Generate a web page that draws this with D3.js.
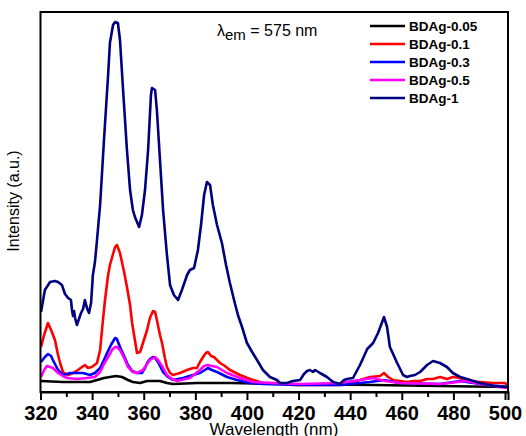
<!DOCTYPE html>
<html><head><meta charset="utf-8">
<script src="https://cdn.jsdelivr.net/npm/d3@7"></script>
<style>body{margin:0;background:#fff}svg{display:block}</style>
</head><body>
<script>
// ---- data ----
const seriesNames = ["BDAg-0.05","BDAg-0.1","BDAg-0.3","BDAg-0.5","BDAg-1"];
const seriesColors = ["#000000","#ff0000","#0000ff","#ff00ff","#000080"];
const xTicks = [320,340,360,380,400,420,440,460,480,500];
const xMinorTicks = [330,350,370,390,410,430,450,470,490];

const wl005 = [320.2,328.7,339.2,341.9,344.6,346.9,349.3,351.6,353.9,355.8,358.6,361.3,363.6,366.3,369.0,371.3,380.6,393.4,412.8,448.9,474.8,500.8];
const int005 = [11,10,10,12,14,15,16,15,12,10,9,11,11,11,9,8,9,9,8,7,6,5];

const wl01 = [320.2,321.4,322.9,324.1,325.6,326.8,327.6,328.7,330.7,332.6,334.5,336.1,337.2,338.4,339.9,341.9,343.1,344.2,345.0,346.2,346.9,348.9,349.6,350.8,352.4,353.5,354.7,355.5,357.4,358.6,359.7,361.3,362.4,363.6,364.4,365.1,366.3,367.1,368.2,369.0,370.2,371.3,374.1,376.8,379.1,380.6,381.8,383.0,384.1,384.9,386.1,387.2,389.6,391.5,393.4,397.3,401.2,406.2,412.8,417.8,428.3,437.2,440.7,443.8,447.7,451.6,453.1,454.7,456.6,459.3,462.0,464.7,467.1,469.8,472.1,474.8,477.5,479.8,482.6,485.3,490.3,495.4,500.0,500.8];
const int01 = [45,57,69,62,52,37,29,20,17,19,22,25,27,24,25,29,42,72,92,117,127,145,147,139,120,105,87,69,39,40,49,62,74,81,80,72,57,49,34,25,19,17,19,22,24,24,30,35,39,40,36,35,29,26,22,17,13,9,9,7,7,7,10,12,15,16,19,15,12,11,10,11,11,13,13,15,13,15,14,11,10,9,9,7];

const wl03 = [320.2,321.7,322.9,324.1,324.8,326.0,326.8,328.7,330.3,331.4,334.1,336.5,339.2,341.1,343.1,344.6,345.8,347.3,348.9,349.6,350.8,352.4,353.9,355.5,357.4,359.3,360.5,361.3,362.4,363.6,364.4,365.5,366.7,367.5,369.4,371.3,375.2,379.1,381.8,383.7,384.9,386.4,388.4,392.3,396.1,401.2,406.2,420.6,436.1,447.7,453.1,459.3,474.8,482.6,490.3,500.8];
const int03 = [30,35,38,36,32,26,22,17,18,19,19,19,17,19,24,32,39,47,54,53,45,36,27,21,19,19,24,29,33,35,34,30,24,20,15,12,14,17,19,22,24,22,20,15,12,9,8,7,7,10,12,9,8,11,8,5];

const wl05 = [320.2,321.4,322.5,323.7,324.8,326.8,328.7,330.3,334.1,338.0,341.1,343.1,344.6,346.2,347.7,348.9,349.6,350.8,352.4,353.9,355.8,357.4,359.7,361.3,362.4,364.4,365.5,367.1,369.0,371.0,372.9,377.9,381.8,383.4,384.9,386.4,388.4,392.3,397.3,402.3,408.9,420.6,436.1,443.8,448.9,453.5,459.3,474.8,485.3,490.3,500.8];
const int05 = [15,22,26,25,24,19,16,14,13,14,15,20,28,35,42,45,45,42,34,25,20,19,22,28,32,35,32,26,17,13,11,14,22,26,27,26,25,19,14,10,9,8,9,12,14,11,9,8,11,8,4];

const wl1 = [320.2,321.7,323.7,325.6,326.8,328.3,329.5,330.7,331.8,332.2,332.6,333.0,333.4,334.1,334.9,335.7,336.5,337.2,338.0,338.8,339.6,340.3,341.1,341.9,343.1,344.6,346.2,346.9,348.1,348.9,350.0,350.8,352.0,353.5,354.7,355.8,356.6,358.2,359.3,360.5,361.7,362.8,363.2,364.4,365.1,366.3,367.5,369.0,370.2,371.7,373.3,374.8,376.8,377.9,379.5,381.0,382.2,383.4,384.5,385.7,386.8,388.4,390.3,391.9,393.4,395.0,396.5,398.1,400.0,402.0,403.9,406.2,408.9,411.6,412.8,415.5,417.8,420.6,422.1,423.3,424.4,425.6,426.4,428.3,431.0,433.4,436.1,437.6,438.8,441.1,443.8,445.4,446.6,448.9,450.8,452.4,453.1,454.3,455.4,458.2,460.5,462.0,463.2,465.1,467.1,469.8,472.1,474.8,477.5,479.8,482.6,485.3,490.3,495.4,500.8];
const int1 = [80,102,110,111,110,107,98,94,92,82,76,81,74,67,73,79,83,92,84,79,89,117,130,152,187,252,317,349,367,370,369,352,302,242,202,182,175,165,177,202,242,297,304,302,282,232,182,137,107,97,92,102,117,122,124,142,167,197,210,207,187,167,149,127,109,92,77,65,49,40,32,22,15,12,9,9,11,12,18,21,22,20,22,19,15,10,8,12,13,14,27,36,43,49,59,70,75,65,45,29,17,15,16,17,20,27,31,29,25,19,15,13,9,6,5];

const allWl = [wl005, wl01, wl03, wl05, wl1];
const allInt = [int005, int01, int03, int05, int1];

// ---- chart ----
const W = 526, H = 436;
const pL = 40.5, pR = 508, pT = 12, pB = 392;
const svg = d3.select("body").append("svg").attr("width", W).attr("height", H);

const x = d3.scaleLinear().domain([320, 501.16]).range([pL, pR]);
const y = d3.scaleLinear().domain([0, 380]).range([pB, pT]);

const line = d3.line().x(d => x(d[0])).y(d => y(d[1]));

svg.append("defs").append("clipPath").attr("id","clip")
  .append("rect").attr("x", pL).attr("y", pT).attr("width", pR-pL).attr("height", pB-pT);

const lines = svg.append("g").attr("clip-path","url(#clip)");
allWl.forEach((wl, i) => {
  const pts = wl.map((w, j) => [w, allInt[i][j]]);
  lines.append("path").datum(pts)
    .attr("d", line)
    .attr("fill","none")
    .attr("stroke", seriesColors[i])
    .attr("stroke-width", 2.6)
    .attr("stroke-linejoin","round");
});

// frame
svg.append("rect").attr("x", pL).attr("y", pT).attr("width", pR-pL).attr("height", pB-pT)
  .attr("fill","none").attr("stroke","#000").attr("stroke-width",2);

// x axis
const xAxis = svg.append("g").attr("transform", `translate(0,${pB})`)
  .call(d3.axisBottom(x).tickValues(xTicks).tickSize(8).tickFormat(d3.format("d")));
xAxis.select(".domain").attr("stroke-width",2);
xAxis.selectAll(".tick line").attr("stroke-width",2);
xAxis.selectAll(".tick text").attr("font-family","Liberation Sans, Arial, sans-serif")
  .attr("font-weight","bold").attr("font-size",20).attr("y",13.5).attr("dy","0.71em").attr("fill","#000");
svg.append("g").attr("transform", `translate(0,${pB})`)
  .call(d3.axisBottom(x).tickValues(xMinorTicks).tickSize(5).tickFormat(""))
  .call(g => g.select(".domain").remove())
  .selectAll(".tick line").attr("stroke-width",2);

// axis titles
svg.append("text").attr("x", 274).attr("y", 435).attr("text-anchor","middle")
  .attr("font-family","Liberation Sans, Arial, sans-serif").attr("font-size",17)
  .text("Wavelength (nm)");
svg.append("text").attr("transform","translate(19,201) rotate(-90)").attr("text-anchor","middle")
  .attr("font-family","Liberation Sans, Arial, sans-serif").attr("font-size",16)
  .text("Intensity (a.u.)");

// annotation
const ann = svg.append("text").attr("x", 217).attr("y", 36)
  .attr("font-family","Liberation Sans, Arial, sans-serif").attr("font-size",16);
ann.append("tspan").text("λ");
ann.append("tspan").attr("font-size",15).attr("dy",4).text("em");
ann.append("tspan").attr("dy",-4).text(" = 575 nm");

// legend
const legY = [26, 44, 62, 80, 98];
const leg = svg.append("g");
seriesNames.forEach((n, i) => {
  leg.append("line").attr("x1", 370).attr("x2", 405).attr("y1", legY[i]).attr("y2", legY[i])
    .attr("stroke", seriesColors[i]).attr("stroke-width", 2.6);
  leg.append("text").attr("x", 409).attr("y", legY[i]).attr("dy","0.36em")
    .attr("font-family","Liberation Sans, Arial, sans-serif").attr("font-weight","bold")
    .attr("font-size",13.5).text(n);
});
</script>
</body></html>
